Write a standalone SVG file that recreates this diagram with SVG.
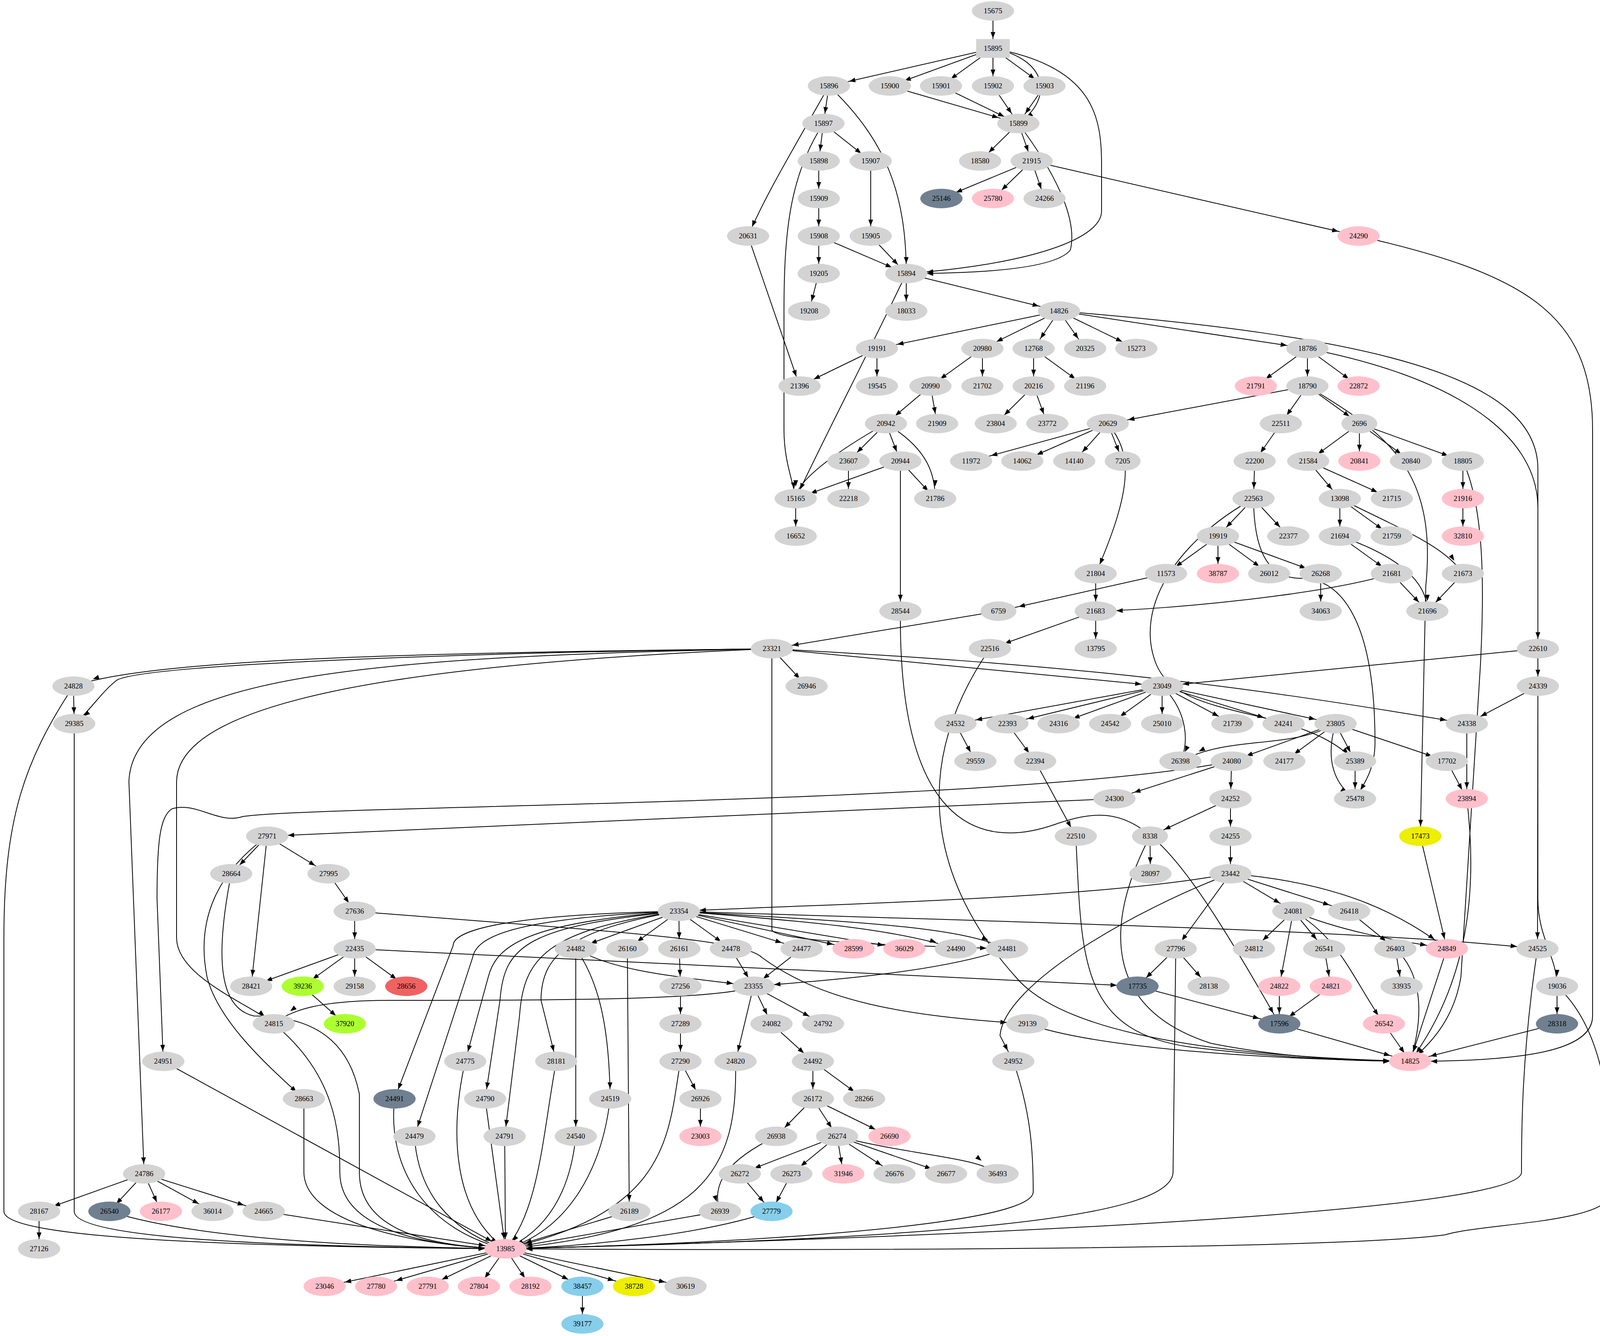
<svg xmlns="http://www.w3.org/2000/svg" width="4135" height="3419" viewBox="0 0 4135 3419">
<style>
.e{stroke:#000;stroke-width:2;fill:none}
ellipse,rect{stroke:none}
.g{fill:#d3d3d3}.p{fill:#ffc0cb}.s{fill:#708090}.b{fill:#87ceeb}.y{fill:#eeee00}.gy{fill:#adff2f}.r{fill:#f06262}
text{font-family:"Liberation Serif","Times New Roman",serif;font-size:19px;text-anchor:middle;fill:#000}
</style>
<defs>
<marker id="m26" markerUnits="userSpaceOnUse" orient="auto" refX="26" refY="0" markerWidth="1" markerHeight="1" overflow="visible"><path d="M0,0 L-16,-6 L-16,6 Z"/></marker>
<marker id="m31" markerUnits="userSpaceOnUse" orient="auto" refX="31" refY="0" markerWidth="1" markerHeight="1" overflow="visible"><path d="M0,0 L-16,-6 L-16,6 Z"/></marker>
<marker id="m40" markerUnits="userSpaceOnUse" orient="auto" refX="40" refY="0" markerWidth="1" markerHeight="1" overflow="visible"><path d="M0,0 L-16,-6 L-16,6 Z"/></marker>
<marker id="m52" markerUnits="userSpaceOnUse" orient="auto" refX="53" refY="0" markerWidth="1" markerHeight="1" overflow="visible"><path d="M0,0 L-16,-6 L-16,6 Z"/></marker>
</defs>
<rect x="0" y="0" width="4135" height="3419" fill="#fff"/>
<g id="edges">
<path class="e" marker-end="url(#m26)" d="M2542,28 L2542,124"/>
<path class="e" marker-end="url(#m52)" d="M2542,124 L2122,220"/>
<path class="e" marker-end="url(#m40)" d="M2542,124 L2278,220"/>
<path class="e" marker-end="url(#m31)" d="M2542,124 L2409,220"/>
<path class="e" marker-end="url(#m26)" d="M2542,124 L2542,220"/>
<path class="e" marker-end="url(#m31)" d="M2542,124 L2674,220"/>
<path class="e" marker-end="url(#m26)" d="M2542,124 C2680,150 2700,250 2607,316"/>
<path class="e" marker-end="url(#m52)" d="M2542,124 C2800,170 2820,300 2820,420 L2820,540 C2820,620 2600,680 2320,700"/>
<path class="e" marker-end="url(#m26)" d="M2122,220 L2108,316"/>
<path class="e" marker-end="url(#m26)" d="M2122,220 C2020,400 1960,500 1915,604"/>
<path class="e" marker-end="url(#m26)" d="M2122,220 C2270,360 2320,500 2320,700"/>
<path class="e" marker-end="url(#m52)" d="M2278,220 L2607,316"/>
<path class="e" marker-end="url(#m40)" d="M2409,220 L2607,316"/>
<path class="e" marker-end="url(#m31)" d="M2542,220 L2607,316"/>
<path class="e" marker-end="url(#m31)" d="M2674,220 L2607,316"/>
<path class="e" marker-end="url(#m31)" d="M2607,316 L2509,412"/>
<path class="e" marker-end="url(#m26)" d="M2607,316 L2641,412"/>
<path class="e" marker-end="url(#m52)" d="M2607,316 C2700,440 2760,560 2740,640 C2700,690 2500,700 2320,700"/>
<path class="e" marker-end="url(#m26)" d="M2108,316 L2096,412"/>
<path class="e" marker-end="url(#m31)" d="M2108,316 L2229,412"/>
<path class="e" marker-end="url(#m26)" d="M2108,316 C2020,450 2007,600 2007,800 L2007,1100 C2007,1180 2030,1230 2037,1276"/>
<path class="e" marker-end="url(#m26)" d="M2096,412 L2096,508"/>
<path class="e" marker-end="url(#m26)" d="M2096,508 L2096,604"/>
<path class="e" marker-end="url(#m26)" d="M2229,412 L2229,604"/>
<path class="e" marker-end="url(#m26)" d="M2096,604 L2096,700"/>
<path class="e" marker-end="url(#m40)" d="M2096,604 L2320,700"/>
<path class="e" marker-end="url(#m31)" d="M2229,604 L2320,700"/>
<path class="e" marker-end="url(#m26)" d="M2096,700 L2071,796"/>
<path class="e" marker-end="url(#m26)" d="M1915,604 L2047,988"/>
<path class="e" marker-end="url(#m40)" d="M2641,412 L2410,508"/>
<path class="e" marker-end="url(#m31)" d="M2641,412 L2542,508"/>
<path class="e" marker-end="url(#m26)" d="M2641,412 L2674,508"/>
<path class="e" marker-end="url(#m52)" d="M2641,412 L3478,604"/>
<path class="e" marker-end="url(#m52)" d="M3478,604 C3900,700 4077,800 4077,1100 L4077,2600 C4077,2690 3900,2716 3610,2716"/>
<path class="e" marker-end="url(#m26)" d="M2320,700 L2320,796"/>
<path class="e" marker-end="url(#m52)" d="M2320,700 L2711,796"/>
<path class="e" marker-end="url(#m26)" d="M2320,700 C2200,950 2120,1100 2037,1276"/>
<path class="e" marker-end="url(#m52)" d="M2711,796 L2245,892"/>
<path class="e" marker-end="url(#m40)" d="M2711,796 L2515,892"/>
<path class="e" marker-end="url(#m31)" d="M2711,796 L2646,892"/>
<path class="e" marker-end="url(#m31)" d="M2711,796 L2778,892"/>
<path class="e" marker-end="url(#m40)" d="M2711,796 L2909,892"/>
<path class="e" marker-end="url(#m52)" d="M2711,796 L3347,892"/>
<path class="e" marker-end="url(#m26)" d="M2711,796 C3500,860 3937,960 3937,1200 L3937,2300 C3937,2400 3986,2450 3986,2524"/>
<path class="e" marker-end="url(#m40)" d="M2245,892 L2047,988"/>
<path class="e" marker-end="url(#m26)" d="M2245,892 L2245,988"/>
<path class="e" marker-end="url(#m31)" d="M2515,892 L2382,988"/>
<path class="e" marker-end="url(#m26)" d="M2515,892 L2515,988"/>
<path class="e" marker-end="url(#m26)" d="M2646,892 L2646,988"/>
<path class="e" marker-end="url(#m31)" d="M2646,892 L2778,988"/>
<path class="e" marker-end="url(#m31)" d="M3347,892 L3215,988"/>
<path class="e" marker-end="url(#m26)" d="M3347,892 L3347,988"/>
<path class="e" marker-end="url(#m31)" d="M3347,892 L3478,988"/>
<path class="e" marker-end="url(#m26)" d="M3347,892 C3700,960 3937,1100 3937,1300 L3937,1660"/>
<path class="e" marker-end="url(#m31)" d="M2382,988 L2268,1084"/>
<path class="e" marker-end="url(#m26)" d="M2382,988 L2399,1084"/>
<path class="e" marker-end="url(#m31)" d="M2646,988 L2549,1084"/>
<path class="e" marker-end="url(#m26)" d="M2646,988 L2681,1084"/>
<path class="e" marker-end="url(#m52)" d="M3347,988 L2836,1084"/>
<path class="e" marker-end="url(#m26)" d="M3347,988 L3279,1084"/>
<path class="e" marker-end="url(#m31)" d="M3347,988 L3480,1084"/>
<path class="e" marker-end="url(#m26)" d="M3347,988 C3550,1110 3680,1200 3650,1500 L3636,2140"/>
<path class="e" marker-end="url(#m31)" d="M2268,1084 C2150,1150 2037,1230 2037,1276"/>
<path class="e" marker-end="url(#m31)" d="M2268,1084 L2172,1180"/>
<path class="e" marker-end="url(#m26)" d="M2268,1084 L2305,1180"/>
<path class="e" marker-end="url(#m31)" d="M2268,1084 C2380,1150 2394,1220 2394,1276"/>
<path class="e" marker-end="url(#m52)" d="M2836,1084 L2486,1180"/>
<path class="e" marker-end="url(#m40)" d="M2836,1084 L2617,1180"/>
<path class="e" marker-end="url(#m31)" d="M2836,1084 L2750,1180"/>
<path class="e" marker-end="url(#m26)" d="M2836,1084 L2874,1180"/>
<path class="e" marker-end="url(#m26)" d="M2836,1084 C2900,1160 2900,1250 2805,1468"/>
<path class="e" marker-end="url(#m26)" d="M3279,1084 L3212,1180"/>
<path class="e" marker-end="url(#m31)" d="M3480,1084 L3349,1180"/>
<path class="e" marker-end="url(#m26)" d="M3480,1084 L3480,1180"/>
<path class="e" marker-end="url(#m31)" d="M3480,1084 L3612,1180"/>
<path class="e" marker-end="url(#m40)" d="M3480,1084 L3745,1180"/>
<path class="e" marker-end="url(#m26)" d="M2172,1180 L2172,1276"/>
<path class="e" marker-end="url(#m40)" d="M2305,1180 L2037,1276"/>
<path class="e" marker-end="url(#m26)" d="M2305,1180 L2394,1276"/>
<path class="e" marker-end="url(#m26)" d="M2305,1180 L2305,1564"/>
<path class="e" marker-end="url(#m26)" d="M3212,1180 L3209,1276"/>
<path class="e" marker-end="url(#m31)" d="M3349,1180 L3430,1276"/>
<path class="e" marker-end="url(#m40)" d="M3349,1180 L3563,1276"/>
<path class="e" marker-end="url(#m26)" d="M3745,1180 L3745,1276"/>
<path class="e" marker-end="url(#m26)" d="M3745,1180 C3800,1300 3800,1500 3790,1700 L3740,2500 C3720,2620 3650,2680 3610,2716"/>
<path class="e" marker-end="url(#m26)" d="M2037,1276 L2037,1372"/>
<path class="e" marker-end="url(#m31)" d="M3209,1276 L3118,1372"/>
<path class="e" marker-end="url(#m31)" d="M3209,1276 L3298,1372"/>
<path class="e" marker-end="url(#m26)" d="M3209,1276 C3020,1380 2900,1550 2960,1700 C3020,1850 3330,1800 3469,1948"/>
<path class="e" marker-end="url(#m26)" d="M3209,1276 C3210,1400 3240,1480 3330,1480 C3440,1480 3520,1600 3520,1900 C3520,1970 3490,2010 3469,2044"/>
<path class="e" marker-end="url(#m26)" d="M3430,1276 L3430,1372"/>
<path class="e" marker-end="url(#m31)" d="M3430,1276 L3563,1372"/>
<path class="e" marker-end="url(#m40)" d="M3430,1276 C3600,1360 3700,1400 3745,1468"/>
<path class="e" marker-end="url(#m26)" d="M3745,1276 L3745,1372"/>
<path class="e" marker-end="url(#m31)" d="M3118,1372 L2985,1468"/>
<path class="e" marker-end="url(#m26)" d="M3118,1372 L3118,1468"/>
<path class="e" marker-end="url(#m31)" d="M3118,1372 L3249,1468"/>
<path class="e" marker-end="url(#m40)" d="M3118,1372 L3381,1468"/>
<path class="e" marker-end="url(#m31)" d="M3430,1372 L3563,1468"/>
<path class="e" marker-end="url(#m26)" d="M3430,1372 C3600,1430 3654,1500 3654,1564"/>
<path class="e" marker-end="url(#m52)" d="M3563,1468 C3400,1520 3000,1560 2805,1564"/>
<path class="e" marker-end="url(#m31)" d="M3563,1468 L3654,1564"/>
<path class="e" marker-end="url(#m31)" d="M3745,1468 L3654,1564"/>
<path class="e" marker-end="url(#m26)" d="M2805,1468 L2805,1564"/>
<path class="e" marker-end="url(#m52)" d="M2985,1468 L2556,1564"/>
<path class="e" marker-end="url(#m26)" d="M3381,1468 L3381,1564"/>
<path class="e" marker-end="url(#m52)" d="M2556,1564 L1976,1660"/>
<path class="e" marker-end="url(#m40)" d="M2805,1564 L2534,1660"/>
<path class="e" marker-end="url(#m26)" d="M2805,1564 L2805,1660"/>
<path class="e" marker-end="url(#m31)" d="M2305,1564 C2300,2100 2500,2180 2700,2110 C2900,2040 2980,2100 3275,2620"/>
<path class="e" marker-end="url(#m52)" d="M2534,1660 C2300,2000 2420,2300 2600,2500 C2700,2620 3000,2700 3610,2716"/>
<path class="e" marker-end="url(#m52)" d="M1976,1660 C1200,1670 400,1680 188,1756"/>
<path class="e" marker-end="url(#m31)" d="M1976,1660 C1200,1670 380,1700 300,1740 C260,1770 230,1820 190,1852"/>
<path class="e" marker-end="url(#m26)" d="M1976,1660 C1000,1680 340,1720 330,2000 L369,3004"/>
<path class="e" marker-end="url(#m31)" d="M1976,1660 C1000,1700 455,1800 452,2000 L452,2400 C452,2500 640,2570 701,2620"/>
<path class="e" marker-end="url(#m52)" d="M1976,1660 L1976,2380 C1990,2410 2300,2420 2578,2428"/>
<path class="e" marker-end="url(#m26)" d="M1976,1660 L2065,1756"/>
<path class="e" marker-end="url(#m52)" d="M1976,1660 L2975,1756"/>
<path class="e" marker-end="url(#m52)" d="M1976,1660 C2700,1700 3100,1740 3755,1852"/>
<path class="e" marker-end="url(#m52)" d="M3937,1660 L2975,1756"/>
<path class="e" marker-end="url(#m26)" d="M3937,1660 L3937,1756"/>
<path class="e" marker-end="url(#m40)" d="M3937,1756 L3755,1852"/>
<path class="e" marker-end="url(#m26)" d="M3937,1756 L3936,2428"/>
<path class="e" marker-end="url(#m52)" d="M2975,1756 L2446,1852"/>
<path class="e" marker-end="url(#m52)" d="M2975,1756 L2579,1852"/>
<path class="e" marker-end="url(#m40)" d="M2975,1756 L2710,1852"/>
<path class="e" marker-end="url(#m31)" d="M2975,1756 L2842,1852"/>
<path class="e" marker-end="url(#m26)" d="M2975,1756 L2975,1852"/>
<path class="e" marker-end="url(#m40)" d="M2975,1756 L3155,1852"/>
<path class="e" marker-end="url(#m52)" d="M2975,1756 L3286,1852"/>
<path class="e" marker-end="url(#m52)" d="M2975,1756 L3419,1852"/>
<path class="e" marker-end="url(#m26)" d="M2975,1756 C3040,1820 3045,1900 3022,1948"/>
<path class="e" marker-end="url(#m26)" d="M2446,1852 L2497,1948"/>
<path class="e" marker-end="url(#m26)" d="M2579,1852 L2650,1948"/>
<path class="e" marker-end="url(#m26)" d="M2650,1948 L2754,2140"/>
<path class="e" marker-end="url(#m52)" d="M3419,1852 C3300,1920 3150,1880 3022,1948"/>
<path class="e" marker-end="url(#m40)" d="M3419,1852 L3153,1948"/>
<path class="e" marker-end="url(#m31)" d="M3419,1852 L3288,1948"/>
<path class="e" marker-end="url(#m26)" d="M3419,1852 L3469,1948"/>
<path class="e" marker-end="url(#m26)" d="M3419,1852 C3390,1950 3420,2010 3469,2044"/>
<path class="e" marker-end="url(#m40)" d="M3419,1852 L3704,1948"/>
<path class="e" marker-end="url(#m26)" d="M3755,1852 L3755,2044"/>
<path class="e" marker-end="url(#m26)" d="M3469,1948 L3469,2044"/>
<path class="e" marker-end="url(#m52)" d="M3153,1948 L2853,2044"/>
<path class="e" marker-end="url(#m26)" d="M3153,1948 L3150,2044"/>
<path class="e" marker-end="url(#m26)" d="M3153,1948 C2600,2060 800,2060 620,2090 C560,2110 500,2050 440,2070 C410,2090 402,2150 402,2300 L418,2716"/>
<path class="e" marker-end="url(#m52)" d="M2853,2044 L684,2140"/>
<path class="e" marker-end="url(#m26)" d="M3704,1948 L3755,2044"/>
<path class="e" marker-end="url(#m40)" d="M3150,2044 L2944,2140"/>
<path class="e" marker-end="url(#m26)" d="M3150,2044 L3150,2140"/>
<path class="e" marker-end="url(#m52)" d="M2754,2140 C2770,2450 2760,2640 3050,2680 C3300,2710 3500,2716 3610,2716"/>
<path class="e" marker-end="url(#m26)" d="M2944,2140 L2945,2236"/>
<path class="e" marker-end="url(#m52)" d="M2944,2140 C2830,2360 2820,2580 3100,2670 C3300,2710 3500,2716 3610,2716"/>
<path class="e" marker-end="url(#m26)" d="M3150,2140 L3150,2236"/>
<path class="e" marker-end="url(#m26)" d="M3636,2140 L3704,2428"/>
<path class="e" marker-end="url(#m26)" d="M3755,2044 C3780,2250 3770,2500 3610,2716"/>
<path class="e" marker-end="url(#m31)" d="M684,2140 L592,2236"/>
<path class="e" marker-end="url(#m26)" d="M684,2140 L643,2524"/>
<path class="e" marker-end="url(#m40)" d="M684,2140 L841,2236"/>
<path class="e" marker-end="url(#m26)" d="M684,2140 C560,2230 500,2350 530,2500 C560,2620 700,2740 778,2812"/>
<path class="e" marker-end="url(#m31)" d="M592,2236 C550,2450 560,2580 650,2600 C840,2600 900,2700 920,2800 L920,3000 C920,3150 1100,3190 1294,3196"/>
<path class="e" marker-end="url(#m26)" d="M841,2236 L908,2332"/>
<path class="e" marker-end="url(#m26)" d="M908,2332 L908,2428"/>
<path class="e" marker-end="url(#m52)" d="M908,2332 C1500,2380 1900,2400 1950,2450 C2100,2560 2300,2600 2630,2620"/>
<path class="e" marker-end="url(#m52)" d="M3150,2236 C2800,2300 2200,2310 1738,2332"/>
<path class="e" marker-end="url(#m40)" d="M3150,2236 L3311,2332"/>
<path class="e" marker-end="url(#m52)" d="M3150,2236 L3454,2332"/>
<path class="e" marker-end="url(#m40)" d="M3150,2236 C3450,2260 3600,2350 3704,2428"/>
<path class="e" marker-end="url(#m26)" d="M3150,2236 L3010,2428"/>
<path class="e" marker-end="url(#m31)" d="M3150,2236 C2900,2330 2570,2520 2560,2650 L2594,2716"/>
<path class="e" marker-end="url(#m40)" d="M1738,2332 L1474,2428"/>
<path class="e" marker-end="url(#m31)" d="M1738,2332 L1606,2428"/>
<path class="e" marker-end="url(#m26)" d="M1738,2332 L1739,2428"/>
<path class="e" marker-end="url(#m31)" d="M1738,2332 L1871,2428"/>
<path class="e" marker-end="url(#m52)" d="M1738,2332 L2052,2428"/>
<path class="e" marker-end="url(#m52)" d="M1738,2332 L2185,2428"/>
<path class="e" marker-end="url(#m52)" d="M1738,2332 L2315,2428"/>
<path class="e" marker-end="url(#m52)" d="M1738,2332 C2100,2360 2300,2380 2447,2428"/>
<path class="e" marker-end="url(#m52)" d="M1738,2332 C2200,2360 2450,2370 2578,2428"/>
<path class="e" marker-end="url(#m52)" d="M1738,2332 C2600,2360 3500,2380 3936,2428"/>
<path class="e" marker-end="url(#m26)" d="M1738,2332 C1300,2340 1160,2380 1160,2420 L1010,2812"/>
<path class="e" marker-end="url(#m26)" d="M1738,2332 C1300,2350 1220,2400 1210,2450 L1061,2908"/>
<path class="e" marker-end="url(#m26)" d="M1738,2332 C1350,2360 1270,2420 1250,2500 L1191,2716"/>
<path class="e" marker-end="url(#m26)" d="M1738,2332 C1350,2370 1290,2420 1280,2560 L1242,2812"/>
<path class="e" marker-end="url(#m26)" d="M1738,2332 C1400,2380 1340,2450 1330,2600 L1292,2908"/>
<path class="e" marker-end="url(#m26)" d="M1738,2332 C1450,2380 1385,2450 1385,2560 L1424,2716"/>
<path class="e" marker-end="url(#m40)" d="M908,2428 L643,2524"/>
<path class="e" marker-end="url(#m31)" d="M908,2428 L775,2524"/>
<path class="e" marker-end="url(#m26)" d="M908,2428 L908,2524"/>
<path class="e" marker-end="url(#m31)" d="M908,2428 L1040,2524"/>
<path class="e" marker-end="url(#m52)" d="M908,2428 L2912,2524"/>
<path class="e" marker-end="url(#m31)" d="M775,2524 L883,2620"/>
<path class="e" marker-end="url(#m26)" d="M1606,2428 L1611,3100"/>
<path class="e" marker-end="url(#m26)" d="M1739,2428 L1742,2524"/>
<path class="e" marker-end="url(#m26)" d="M1742,2524 L1742,2620"/>
<path class="e" marker-end="url(#m26)" d="M1742,2620 L1742,2716"/>
<path class="e" marker-end="url(#m26)" d="M1742,2716 L1793,2812"/>
<path class="e" marker-end="url(#m31)" d="M1742,2716 C1710,2900 1720,3100 1294,3196"/>
<path class="e" marker-end="url(#m52)" d="M1474,2428 C1580,2490 1750,2500 1929,2524"/>
<path class="e" marker-end="url(#m26)" d="M1474,2428 L1474,2908"/>
<path class="e" marker-end="url(#m26)" d="M1474,2428 C1540,2520 1560,2650 1562,2812"/>
<path class="e" marker-end="url(#m26)" d="M1871,2428 L1929,2524"/>
<path class="e" marker-end="url(#m31)" d="M2052,2428 L1929,2524"/>
<path class="e" marker-end="url(#m52)" d="M2578,2428 C2400,2490 2100,2510 1929,2524"/>
<path class="e" marker-end="url(#m52)" d="M1929,2524 C1850,2560 1400,2560 1000,2560 C800,2560 740,2590 701,2620"/>
<path class="e" marker-end="url(#m26)" d="M1929,2524 L1883,2716"/>
<path class="e" marker-end="url(#m26)" d="M1929,2524 L1975,2620"/>
<path class="e" marker-end="url(#m40)" d="M1929,2524 L2107,2620"/>
<path class="e" marker-end="url(#m31)" d="M1975,2620 L2081,2716"/>
<path class="e" marker-end="url(#m26)" d="M2081,2716 L2081,2812"/>
<path class="e" marker-end="url(#m31)" d="M2081,2716 L2212,2812"/>
<path class="e" marker-end="url(#m31)" d="M2081,2812 L1987,2908"/>
<path class="e" marker-end="url(#m26)" d="M2081,2812 L2143,2908"/>
<path class="e" marker-end="url(#m40)" d="M2081,2812 L2277,2908"/>
<path class="e" marker-end="url(#m40)" d="M2143,2908 L1894,3004"/>
<path class="e" marker-end="url(#m31)" d="M2143,2908 L2026,3004"/>
<path class="e" marker-end="url(#m26)" d="M2143,2908 L2159,3004"/>
<path class="e" marker-end="url(#m40)" d="M2143,2908 L2290,3004"/>
<path class="e" marker-end="url(#m40)" d="M2143,2908 L2422,3004"/>
<path class="e" marker-end="url(#m52)" d="M2143,2908 C2350,2960 2500,2960 2554,3004"/>
<path class="e" marker-end="url(#m31)" d="M1894,3004 L1975,3100"/>
<path class="e" marker-end="url(#m26)" d="M2026,3004 L1975,3100"/>
<path class="e" marker-end="url(#m26)" d="M1793,2812 L1793,2908"/>
<path class="e" marker-end="url(#m26)" d="M1987,2908 C1860,2970 1820,3030 1843,3100"/>
<path class="e" marker-end="url(#m31)" d="M3311,2332 L3210,2428"/>
<path class="e" marker-end="url(#m31)" d="M3311,2332 L3390,2428"/>
<path class="e" marker-end="url(#m26)" d="M3311,2332 L3275,2524"/>
<path class="e" marker-end="url(#m26)" d="M3311,2332 C3430,2400 3460,2500 3543,2620"/>
<path class="e" marker-end="url(#m52)" d="M3311,2332 C3450,2390 3600,2410 3704,2428"/>
<path class="e" marker-end="url(#m31)" d="M3454,2332 L3572,2428"/>
<path class="e" marker-end="url(#m26)" d="M3572,2428 L3588,2524"/>
<path class="e" marker-end="url(#m26)" d="M3572,2428 C3650,2500 3640,2620 3610,2716"/>
<path class="e" marker-end="url(#m26)" d="M3390,2428 L3407,2524"/>
<path class="e" marker-end="url(#m31)" d="M3407,2524 L3275,2620"/>
<path class="e" marker-end="url(#m26)" d="M3275,2524 L3275,2620"/>
<path class="e" marker-end="url(#m31)" d="M3010,2428 L2912,2524"/>
<path class="e" marker-end="url(#m31)" d="M3010,2428 L3094,2524"/>
<path class="e" marker-end="url(#m52)" d="M3010,2428 L3003,3000 C3000,3120 2400,3170 1294,3196"/>
<path class="e" marker-end="url(#m52)" d="M2912,2524 L3275,2620"/>
<path class="e" marker-end="url(#m52)" d="M3275,2620 L3610,2716"/>
<path class="e" marker-end="url(#m26)" d="M3543,2620 L3610,2716"/>
<path class="e" marker-end="url(#m26)" d="M3704,2428 L3610,2716"/>
<path class="e" marker-end="url(#m52)" d="M2630,2620 C2800,2680 3200,2710 3610,2716"/>
<path class="e" marker-end="url(#m26)" d="M3986,2524 L3986,2620"/>
<path class="e" marker-end="url(#m52)" d="M3986,2620 L3610,2716"/>
<path class="e" marker-end="url(#m52)" d="M3986,2524 C4125,2650 4125,2900 4125,3050 C4125,3130 3800,3130 3700,3160 C3400,3200 2000,3200 1294,3196"/>
<path class="e" marker-end="url(#m52)" d="M3936,2428 C3895,2700 3895,2900 3895,3000 C3895,3080 3000,3150 1294,3196"/>
<path class="e" marker-end="url(#m52)" d="M2594,2716 C2640,2850 2645,2950 2645,3050 C2645,3130 2000,3180 1294,3196"/>
<path class="e" marker-end="url(#m40)" d="M369,3004 L100,3100"/>
<path class="e" marker-end="url(#m26)" d="M369,3004 L280,3100"/>
<path class="e" marker-end="url(#m26)" d="M369,3004 L412,3100"/>
<path class="e" marker-end="url(#m40)" d="M369,3004 L544,3100"/>
<path class="e" marker-end="url(#m52)" d="M369,3004 L675,3100"/>
<path class="e" marker-end="url(#m26)" d="M100,3100 L100,3196"/>
<path class="e" marker-end="url(#m26)" d="M188,1756 L190,1852"/>
<path class="e" marker-end="url(#m52)" d="M188,1756 C60,1950 10,2100 10,2400 L10,3100 C10,3170 600,3190 1294,3196"/>
<path class="e" marker-end="url(#m52)" d="M190,1852 L190,3100 C190,3170 700,3190 1294,3196"/>
<path class="e" marker-end="url(#m52)" d="M280,3100 C500,3170 900,3190 1294,3196"/>
<path class="e" marker-end="url(#m52)" d="M675,3100 L1294,3196"/>
<path class="e" marker-end="url(#m40)" d="M418,2716 L1294,3196"/>
<path class="e" marker-end="url(#m31)" d="M701,2620 C860,2750 870,2900 870,3000 C870,3150 1100,3190 1294,3196"/>
<path class="e" marker-end="url(#m31)" d="M778,2812 L778,3000 C780,3140 1100,3190 1294,3196"/>
<path class="e" marker-end="url(#m26)" d="M1010,2812 C990,3000 1100,3150 1294,3196"/>
<path class="e" marker-end="url(#m26)" d="M1061,2908 C1070,3050 1150,3150 1294,3196"/>
<path class="e" marker-end="url(#m26)" d="M1191,2716 C1150,2900 1160,3100 1294,3196"/>
<path class="e" marker-end="url(#m26)" d="M1242,2812 L1294,3196"/>
<path class="e" marker-end="url(#m26)" d="M1292,2908 L1294,3196"/>
<path class="e" marker-end="url(#m26)" d="M1424,2716 C1390,2900 1380,3100 1294,3196"/>
<path class="e" marker-end="url(#m31)" d="M1474,2908 C1460,3050 1400,3150 1294,3196"/>
<path class="e" marker-end="url(#m31)" d="M1562,2812 C1540,3000 1450,3150 1294,3196"/>
<path class="e" marker-end="url(#m52)" d="M1611,3100 L1294,3196"/>
<path class="e" marker-end="url(#m31)" d="M1883,2716 C1890,3000 1800,3150 1294,3196"/>
<path class="e" marker-end="url(#m52)" d="M1843,3100 L1294,3196"/>
<path class="e" marker-end="url(#m52)" d="M1975,3100 C1800,3160 1500,3190 1294,3196"/>
<path class="e" marker-end="url(#m52)" d="M1294,3196 L831,3292"/>
<path class="e" marker-end="url(#m52)" d="M1294,3196 L963,3292"/>
<path class="e" marker-end="url(#m40)" d="M1294,3196 L1095,3292"/>
<path class="e" marker-end="url(#m26)" d="M1294,3196 L1226,3292"/>
<path class="e" marker-end="url(#m26)" d="M1294,3196 L1358,3292"/>
<path class="e" marker-end="url(#m40)" d="M1294,3196 L1491,3292"/>
<path class="e" marker-end="url(#m52)" d="M1294,3196 L1623,3292"/>
<path class="e" marker-end="url(#m52)" d="M1294,3196 L1755,3292"/>
<path class="e" marker-end="url(#m26)" d="M1491,3292 L1491,3388"/>
</g>
<g id="n15675"><ellipse class="g" cx="2542" cy="28" rx="54" ry="25"/><text x="2542" y="34">15675</text></g>
<g id="n15895"><rect class="g" x="2499" y="100" width="86" height="48"/><text x="2542" y="130">15895</text></g>
<g id="n15896"><ellipse class="g" cx="2122" cy="220" rx="54" ry="25"/><text x="2122" y="226">15896</text></g>
<g id="n15900"><ellipse class="g" cx="2278" cy="220" rx="54" ry="25"/><text x="2278" y="226">15900</text></g>
<g id="n15901"><ellipse class="g" cx="2409" cy="220" rx="54" ry="25"/><text x="2409" y="226">15901</text></g>
<g id="n15902"><ellipse class="g" cx="2542" cy="220" rx="54" ry="25"/><text x="2542" y="226">15902</text></g>
<g id="n15903"><ellipse class="g" cx="2674" cy="220" rx="54" ry="25"/><text x="2674" y="226">15903</text></g>
<g id="n15897"><ellipse class="g" cx="2108" cy="316" rx="54" ry="25"/><text x="2108" y="322">15897</text></g>
<g id="n15899"><ellipse class="g" cx="2607" cy="316" rx="54" ry="25"/><text x="2607" y="322">15899</text></g>
<g id="n15898"><ellipse class="g" cx="2096" cy="412" rx="54" ry="25"/><text x="2096" y="418">15898</text></g>
<g id="n15907"><ellipse class="g" cx="2229" cy="412" rx="54" ry="25"/><text x="2229" y="418">15907</text></g>
<g id="n18580"><ellipse class="g" cx="2509" cy="412" rx="54" ry="25"/><text x="2509" y="418">18580</text></g>
<g id="n21915"><ellipse class="g" cx="2641" cy="412" rx="54" ry="25"/><text x="2641" y="418">21915</text></g>
<g id="n15909"><ellipse class="g" cx="2096" cy="508" rx="54" ry="25"/><text x="2096" y="514">15909</text></g>
<g id="n25146"><ellipse class="s" cx="2410" cy="508" rx="54" ry="25"/><text x="2410" y="514">25146</text></g>
<g id="n25780"><ellipse class="p" cx="2542" cy="508" rx="54" ry="25"/><text x="2542" y="514">25780</text></g>
<g id="n24266"><ellipse class="g" cx="2674" cy="508" rx="54" ry="25"/><text x="2674" y="514">24266</text></g>
<g id="n20631"><ellipse class="g" cx="1915" cy="604" rx="54" ry="25"/><text x="1915" y="610">20631</text></g>
<g id="n15908"><ellipse class="g" cx="2096" cy="604" rx="54" ry="25"/><text x="2096" y="610">15908</text></g>
<g id="n15905"><ellipse class="g" cx="2229" cy="604" rx="54" ry="25"/><text x="2229" y="610">15905</text></g>
<g id="n24290"><ellipse class="p" cx="3478" cy="604" rx="54" ry="25"/><text x="3478" y="610">24290</text></g>
<g id="n19205"><ellipse class="g" cx="2096" cy="700" rx="54" ry="25"/><text x="2096" y="706">19205</text></g>
<g id="n15894"><ellipse class="g" cx="2320" cy="700" rx="54" ry="25"/><text x="2320" y="706">15894</text></g>
<g id="n19208"><ellipse class="g" cx="2071" cy="796" rx="54" ry="25"/><text x="2071" y="802">19208</text></g>
<g id="n18033"><ellipse class="g" cx="2320" cy="796" rx="54" ry="25"/><text x="2320" y="802">18033</text></g>
<g id="n14826"><ellipse class="g" cx="2711" cy="796" rx="54" ry="25"/><text x="2711" y="802">14826</text></g>
<g id="n19191"><ellipse class="g" cx="2245" cy="892" rx="54" ry="25"/><text x="2245" y="898">19191</text></g>
<g id="n20980"><ellipse class="g" cx="2515" cy="892" rx="54" ry="25"/><text x="2515" y="898">20980</text></g>
<g id="n12768"><ellipse class="g" cx="2646" cy="892" rx="54" ry="25"/><text x="2646" y="898">12768</text></g>
<g id="n20325"><ellipse class="g" cx="2778" cy="892" rx="54" ry="25"/><text x="2778" y="898">20325</text></g>
<g id="n15273"><ellipse class="g" cx="2909" cy="892" rx="54" ry="25"/><text x="2909" y="898">15273</text></g>
<g id="n18786"><ellipse class="g" cx="3347" cy="892" rx="54" ry="25"/><text x="3347" y="898">18786</text></g>
<g id="n21396"><ellipse class="g" cx="2047" cy="988" rx="54" ry="25"/><text x="2047" y="994">21396</text></g>
<g id="n19545"><ellipse class="g" cx="2245" cy="988" rx="54" ry="25"/><text x="2245" y="994">19545</text></g>
<g id="n20990"><ellipse class="g" cx="2382" cy="988" rx="54" ry="25"/><text x="2382" y="994">20990</text></g>
<g id="n21702"><ellipse class="g" cx="2515" cy="988" rx="54" ry="25"/><text x="2515" y="994">21702</text></g>
<g id="n20216"><ellipse class="g" cx="2646" cy="988" rx="54" ry="25"/><text x="2646" y="994">20216</text></g>
<g id="n21196"><ellipse class="g" cx="2778" cy="988" rx="54" ry="25"/><text x="2778" y="994">21196</text></g>
<g id="n21791"><ellipse class="p" cx="3215" cy="988" rx="54" ry="25"/><text x="3215" y="994">21791</text></g>
<g id="n18790"><ellipse class="g" cx="3347" cy="988" rx="54" ry="25"/><text x="3347" y="994">18790</text></g>
<g id="n22872"><ellipse class="p" cx="3478" cy="988" rx="54" ry="25"/><text x="3478" y="994">22872</text></g>
<g id="n20942"><ellipse class="g" cx="2268" cy="1084" rx="54" ry="25"/><text x="2268" y="1090">20942</text></g>
<g id="n21909"><ellipse class="g" cx="2399" cy="1084" rx="54" ry="25"/><text x="2399" y="1090">21909</text></g>
<g id="n23804"><ellipse class="g" cx="2549" cy="1084" rx="54" ry="25"/><text x="2549" y="1090">23804</text></g>
<g id="n23772"><ellipse class="g" cx="2681" cy="1084" rx="54" ry="25"/><text x="2681" y="1090">23772</text></g>
<g id="n20629"><ellipse class="g" cx="2836" cy="1084" rx="54" ry="25"/><text x="2836" y="1090">20629</text></g>
<g id="n22511"><ellipse class="g" cx="3279" cy="1084" rx="54" ry="25"/><text x="3279" y="1090">22511</text></g>
<g id="n2696"><ellipse class="g" cx="3480" cy="1084" rx="46" ry="25"/><text x="3480" y="1090">2696</text></g>
<g id="n23607"><ellipse class="g" cx="2172" cy="1180" rx="54" ry="25"/><text x="2172" y="1186">23607</text></g>
<g id="n20944"><ellipse class="g" cx="2305" cy="1180" rx="54" ry="25"/><text x="2305" y="1186">20944</text></g>
<g id="n11972"><ellipse class="g" cx="2486" cy="1180" rx="54" ry="25"/><text x="2486" y="1186">11972</text></g>
<g id="n14062"><ellipse class="g" cx="2617" cy="1180" rx="54" ry="25"/><text x="2617" y="1186">14062</text></g>
<g id="n14140"><ellipse class="g" cx="2750" cy="1180" rx="54" ry="25"/><text x="2750" y="1186">14140</text></g>
<g id="n7205"><ellipse class="g" cx="2874" cy="1180" rx="46" ry="25"/><text x="2874" y="1186">7205</text></g>
<g id="n22200"><ellipse class="g" cx="3212" cy="1180" rx="54" ry="25"/><text x="3212" y="1186">22200</text></g>
<g id="n21584"><ellipse class="g" cx="3349" cy="1180" rx="54" ry="25"/><text x="3349" y="1186">21584</text></g>
<g id="n20841"><ellipse class="p" cx="3480" cy="1180" rx="54" ry="25"/><text x="3480" y="1186">20841</text></g>
<g id="n20840"><ellipse class="g" cx="3612" cy="1180" rx="54" ry="25"/><text x="3612" y="1186">20840</text></g>
<g id="n18805"><ellipse class="g" cx="3745" cy="1180" rx="54" ry="25"/><text x="3745" y="1186">18805</text></g>
<g id="n15165"><ellipse class="g" cx="2037" cy="1276" rx="54" ry="25"/><text x="2037" y="1282">15165</text></g>
<g id="n22218"><ellipse class="g" cx="2172" cy="1276" rx="54" ry="25"/><text x="2172" y="1282">22218</text></g>
<g id="n21786"><ellipse class="g" cx="2394" cy="1276" rx="54" ry="25"/><text x="2394" y="1282">21786</text></g>
<g id="n22563"><ellipse class="g" cx="3209" cy="1276" rx="54" ry="25"/><text x="3209" y="1282">22563</text></g>
<g id="n13098"><ellipse class="g" cx="3430" cy="1276" rx="54" ry="25"/><text x="3430" y="1282">13098</text></g>
<g id="n21715"><ellipse class="g" cx="3563" cy="1276" rx="54" ry="25"/><text x="3563" y="1282">21715</text></g>
<g id="n21916"><ellipse class="p" cx="3745" cy="1276" rx="54" ry="25"/><text x="3745" y="1282">21916</text></g>
<g id="n16652"><ellipse class="g" cx="2037" cy="1372" rx="54" ry="25"/><text x="2037" y="1378">16652</text></g>
<g id="n19919"><ellipse class="g" cx="3118" cy="1372" rx="54" ry="25"/><text x="3118" y="1378">19919</text></g>
<g id="n22377"><ellipse class="g" cx="3298" cy="1372" rx="54" ry="25"/><text x="3298" y="1378">22377</text></g>
<g id="n21694"><ellipse class="g" cx="3430" cy="1372" rx="54" ry="25"/><text x="3430" y="1378">21694</text></g>
<g id="n21759"><ellipse class="g" cx="3563" cy="1372" rx="54" ry="25"/><text x="3563" y="1378">21759</text></g>
<g id="n32810"><ellipse class="p" cx="3745" cy="1372" rx="54" ry="25"/><text x="3745" y="1378">32810</text></g>
<g id="n21804"><ellipse class="g" cx="2805" cy="1468" rx="54" ry="25"/><text x="2805" y="1474">21804</text></g>
<g id="n11573"><ellipse class="g" cx="2985" cy="1468" rx="54" ry="25"/><text x="2985" y="1474">11573</text></g>
<g id="n38787"><ellipse class="p" cx="3118" cy="1468" rx="54" ry="25"/><text x="3118" y="1474">38787</text></g>
<g id="n26012"><ellipse class="g" cx="3249" cy="1468" rx="54" ry="25"/><text x="3249" y="1474">26012</text></g>
<g id="n26268"><ellipse class="g" cx="3381" cy="1468" rx="54" ry="25"/><text x="3381" y="1474">26268</text></g>
<g id="n21681"><ellipse class="g" cx="3563" cy="1468" rx="54" ry="25"/><text x="3563" y="1474">21681</text></g>
<g id="n21673"><ellipse class="g" cx="3745" cy="1468" rx="54" ry="25"/><text x="3745" y="1474">21673</text></g>
<g id="n28544"><ellipse class="g" cx="2305" cy="1564" rx="54" ry="25"/><text x="2305" y="1570">28544</text></g>
<g id="n6759"><ellipse class="g" cx="2556" cy="1564" rx="46" ry="25"/><text x="2556" y="1570">6759</text></g>
<g id="n21683"><ellipse class="g" cx="2805" cy="1564" rx="54" ry="25"/><text x="2805" y="1570">21683</text></g>
<g id="n34063"><ellipse class="g" cx="3381" cy="1564" rx="54" ry="25"/><text x="3381" y="1570">34063</text></g>
<g id="n21696"><ellipse class="g" cx="3654" cy="1564" rx="54" ry="25"/><text x="3654" y="1570">21696</text></g>
<g id="n23321"><ellipse class="g" cx="1976" cy="1660" rx="54" ry="25"/><text x="1976" y="1666">23321</text></g>
<g id="n22516"><ellipse class="g" cx="2534" cy="1660" rx="54" ry="25"/><text x="2534" y="1666">22516</text></g>
<g id="n13795"><ellipse class="g" cx="2805" cy="1660" rx="54" ry="25"/><text x="2805" y="1666">13795</text></g>
<g id="n22610"><ellipse class="g" cx="3937" cy="1660" rx="54" ry="25"/><text x="3937" y="1666">22610</text></g>
<g id="n24828"><ellipse class="g" cx="188" cy="1756" rx="54" ry="25"/><text x="188" y="1762">24828</text></g>
<g id="n26946"><ellipse class="g" cx="2065" cy="1756" rx="54" ry="25"/><text x="2065" y="1762">26946</text></g>
<g id="n23049"><ellipse class="g" cx="2975" cy="1756" rx="54" ry="25"/><text x="2975" y="1762">23049</text></g>
<g id="n24339"><ellipse class="g" cx="3937" cy="1756" rx="54" ry="25"/><text x="3937" y="1762">24339</text></g>
<g id="n29385"><ellipse class="g" cx="190" cy="1852" rx="54" ry="25"/><text x="190" y="1858">29385</text></g>
<g id="n24532"><ellipse class="g" cx="2446" cy="1852" rx="54" ry="25"/><text x="2446" y="1858">24532</text></g>
<g id="n22393"><ellipse class="g" cx="2579" cy="1852" rx="54" ry="25"/><text x="2579" y="1858">22393</text></g>
<g id="n24316"><ellipse class="g" cx="2710" cy="1852" rx="54" ry="25"/><text x="2710" y="1858">24316</text></g>
<g id="n24542"><ellipse class="g" cx="2842" cy="1852" rx="54" ry="25"/><text x="2842" y="1858">24542</text></g>
<g id="n25010"><ellipse class="g" cx="2975" cy="1852" rx="54" ry="25"/><text x="2975" y="1858">25010</text></g>
<g id="n21739"><ellipse class="g" cx="3155" cy="1852" rx="54" ry="25"/><text x="3155" y="1858">21739</text></g>
<g id="n24241"><ellipse class="g" cx="3286" cy="1852" rx="54" ry="25"/><text x="3286" y="1858">24241</text></g>
<g id="n23805"><ellipse class="g" cx="3419" cy="1852" rx="54" ry="25"/><text x="3419" y="1858">23805</text></g>
<g id="n24338"><ellipse class="g" cx="3755" cy="1852" rx="54" ry="25"/><text x="3755" y="1858">24338</text></g>
<g id="n29559"><ellipse class="g" cx="2497" cy="1948" rx="54" ry="25"/><text x="2497" y="1954">29559</text></g>
<g id="n22394"><ellipse class="g" cx="2650" cy="1948" rx="54" ry="25"/><text x="2650" y="1954">22394</text></g>
<g id="n26398"><ellipse class="g" cx="3022" cy="1948" rx="54" ry="25"/><text x="3022" y="1954">26398</text></g>
<g id="n24080"><ellipse class="g" cx="3153" cy="1948" rx="54" ry="25"/><text x="3153" y="1954">24080</text></g>
<g id="n24177"><ellipse class="g" cx="3288" cy="1948" rx="54" ry="25"/><text x="3288" y="1954">24177</text></g>
<g id="n25389"><ellipse class="g" cx="3469" cy="1948" rx="54" ry="25"/><text x="3469" y="1954">25389</text></g>
<g id="n17702"><ellipse class="g" cx="3704" cy="1948" rx="54" ry="25"/><text x="3704" y="1954">17702</text></g>
<g id="n24300"><ellipse class="g" cx="2853" cy="2044" rx="54" ry="25"/><text x="2853" y="2050">24300</text></g>
<g id="n24252"><ellipse class="g" cx="3150" cy="2044" rx="54" ry="25"/><text x="3150" y="2050">24252</text></g>
<g id="n25478"><ellipse class="g" cx="3469" cy="2044" rx="54" ry="25"/><text x="3469" y="2050">25478</text></g>
<g id="n23894"><ellipse class="p" cx="3755" cy="2044" rx="54" ry="25"/><text x="3755" y="2050">23894</text></g>
<g id="n27971"><ellipse class="g" cx="684" cy="2140" rx="54" ry="25"/><text x="684" y="2146">27971</text></g>
<g id="n22510"><ellipse class="g" cx="2754" cy="2140" rx="54" ry="25"/><text x="2754" y="2146">22510</text></g>
<g id="n8338"><ellipse class="g" cx="2944" cy="2140" rx="46" ry="25"/><text x="2944" y="2146">8338</text></g>
<g id="n24255"><ellipse class="g" cx="3150" cy="2140" rx="54" ry="25"/><text x="3150" y="2146">24255</text></g>
<g id="n17473"><ellipse class="y" cx="3636" cy="2140" rx="54" ry="25"/><text x="3636" y="2146">17473</text></g>
<g id="n28664"><ellipse class="g" cx="592" cy="2236" rx="54" ry="25"/><text x="592" y="2242">28664</text></g>
<g id="n27995"><ellipse class="g" cx="841" cy="2236" rx="54" ry="25"/><text x="841" y="2242">27995</text></g>
<g id="n28097"><ellipse class="g" cx="2945" cy="2236" rx="54" ry="25"/><text x="2945" y="2242">28097</text></g>
<g id="n23442"><ellipse class="g" cx="3150" cy="2236" rx="54" ry="25"/><text x="3150" y="2242">23442</text></g>
<g id="n27636"><ellipse class="g" cx="908" cy="2332" rx="54" ry="25"/><text x="908" y="2338">27636</text></g>
<g id="n23354"><ellipse class="g" cx="1738" cy="2332" rx="54" ry="25"/><text x="1738" y="2338">23354</text></g>
<g id="n24081"><ellipse class="g" cx="3311" cy="2332" rx="54" ry="25"/><text x="3311" y="2338">24081</text></g>
<g id="n26418"><ellipse class="g" cx="3454" cy="2332" rx="54" ry="25"/><text x="3454" y="2338">26418</text></g>
<g id="n22435"><ellipse class="g" cx="908" cy="2428" rx="54" ry="25"/><text x="908" y="2434">22435</text></g>
<g id="n24482"><ellipse class="g" cx="1474" cy="2428" rx="54" ry="25"/><text x="1474" y="2434">24482</text></g>
<g id="n26160"><ellipse class="g" cx="1606" cy="2428" rx="54" ry="25"/><text x="1606" y="2434">26160</text></g>
<g id="n26161"><ellipse class="g" cx="1739" cy="2428" rx="54" ry="25"/><text x="1739" y="2434">26161</text></g>
<g id="n24478"><ellipse class="g" cx="1871" cy="2428" rx="54" ry="25"/><text x="1871" y="2434">24478</text></g>
<g id="n24477"><ellipse class="g" cx="2052" cy="2428" rx="54" ry="25"/><text x="2052" y="2434">24477</text></g>
<g id="n28599"><ellipse class="p" cx="2185" cy="2428" rx="54" ry="25"/><text x="2185" y="2434">28599</text></g>
<g id="n36029"><ellipse class="p" cx="2315" cy="2428" rx="54" ry="25"/><text x="2315" y="2434">36029</text></g>
<g id="n24490"><ellipse class="g" cx="2447" cy="2428" rx="54" ry="25"/><text x="2447" y="2434">24490</text></g>
<g id="n24481"><ellipse class="g" cx="2578" cy="2428" rx="54" ry="25"/><text x="2578" y="2434">24481</text></g>
<g id="n27796"><ellipse class="g" cx="3010" cy="2428" rx="54" ry="25"/><text x="3010" y="2434">27796</text></g>
<g id="n24812"><ellipse class="g" cx="3210" cy="2428" rx="54" ry="25"/><text x="3210" y="2434">24812</text></g>
<g id="n26541"><ellipse class="g" cx="3390" cy="2428" rx="54" ry="25"/><text x="3390" y="2434">26541</text></g>
<g id="n26403"><ellipse class="g" cx="3572" cy="2428" rx="54" ry="25"/><text x="3572" y="2434">26403</text></g>
<g id="n24849"><ellipse class="p" cx="3704" cy="2428" rx="54" ry="25"/><text x="3704" y="2434">24849</text></g>
<g id="n24525"><ellipse class="g" cx="3936" cy="2428" rx="54" ry="25"/><text x="3936" y="2434">24525</text></g>
<g id="n28421"><ellipse class="g" cx="643" cy="2524" rx="54" ry="25"/><text x="643" y="2530">28421</text></g>
<g id="n39236"><ellipse class="gy" cx="775" cy="2524" rx="54" ry="25"/><text x="775" y="2530">39236</text></g>
<g id="n29158"><ellipse class="g" cx="908" cy="2524" rx="54" ry="25"/><text x="908" y="2530">29158</text></g>
<g id="n28656"><ellipse class="r" cx="1040" cy="2524" rx="54" ry="25"/><text x="1040" y="2530">28656</text></g>
<g id="n27256"><ellipse class="g" cx="1742" cy="2524" rx="54" ry="25"/><text x="1742" y="2530">27256</text></g>
<g id="n23355"><ellipse class="g" cx="1929" cy="2524" rx="54" ry="25"/><text x="1929" y="2530">23355</text></g>
<g id="n17735"><ellipse class="s" cx="2912" cy="2524" rx="54" ry="25"/><text x="2912" y="2530">17735</text></g>
<g id="n28138"><ellipse class="g" cx="3094" cy="2524" rx="54" ry="25"/><text x="3094" y="2530">28138</text></g>
<g id="n24822"><ellipse class="p" cx="3275" cy="2524" rx="54" ry="25"/><text x="3275" y="2530">24822</text></g>
<g id="n24821"><ellipse class="p" cx="3407" cy="2524" rx="54" ry="25"/><text x="3407" y="2530">24821</text></g>
<g id="n33935"><ellipse class="g" cx="3588" cy="2524" rx="54" ry="25"/><text x="3588" y="2530">33935</text></g>
<g id="n19036"><ellipse class="g" cx="3986" cy="2524" rx="54" ry="25"/><text x="3986" y="2530">19036</text></g>
<g id="n24815"><ellipse class="g" cx="701" cy="2620" rx="54" ry="25"/><text x="701" y="2626">24815</text></g>
<g id="n37920"><ellipse class="gy" cx="883" cy="2620" rx="54" ry="25"/><text x="883" y="2626">37920</text></g>
<g id="n27289"><ellipse class="g" cx="1742" cy="2620" rx="54" ry="25"/><text x="1742" y="2626">27289</text></g>
<g id="n24082"><ellipse class="g" cx="1975" cy="2620" rx="54" ry="25"/><text x="1975" y="2626">24082</text></g>
<g id="n24792"><ellipse class="g" cx="2107" cy="2620" rx="54" ry="25"/><text x="2107" y="2626">24792</text></g>
<g id="n29139"><ellipse class="g" cx="2630" cy="2620" rx="54" ry="25"/><text x="2630" y="2626">29139</text></g>
<g id="n17596"><ellipse class="s" cx="3275" cy="2620" rx="54" ry="25"/><text x="3275" y="2626">17596</text></g>
<g id="n26542"><ellipse class="p" cx="3543" cy="2620" rx="54" ry="25"/><text x="3543" y="2626">26542</text></g>
<g id="n28318"><ellipse class="s" cx="3986" cy="2620" rx="54" ry="25"/><text x="3986" y="2626">28318</text></g>
<g id="n24951"><ellipse class="g" cx="418" cy="2716" rx="54" ry="25"/><text x="418" y="2722">24951</text></g>
<g id="n24775"><ellipse class="g" cx="1191" cy="2716" rx="54" ry="25"/><text x="1191" y="2722">24775</text></g>
<g id="n28181"><ellipse class="g" cx="1424" cy="2716" rx="54" ry="25"/><text x="1424" y="2722">28181</text></g>
<g id="n27290"><ellipse class="g" cx="1742" cy="2716" rx="54" ry="25"/><text x="1742" y="2722">27290</text></g>
<g id="n24820"><ellipse class="g" cx="1883" cy="2716" rx="54" ry="25"/><text x="1883" y="2722">24820</text></g>
<g id="n24492"><ellipse class="g" cx="2081" cy="2716" rx="54" ry="25"/><text x="2081" y="2722">24492</text></g>
<g id="n24952"><ellipse class="g" cx="2594" cy="2716" rx="54" ry="25"/><text x="2594" y="2722">24952</text></g>
<g id="n14825"><ellipse class="p" cx="3610" cy="2716" rx="54" ry="25"/><text x="3610" y="2722">14825</text></g>
<g id="n28663"><ellipse class="g" cx="778" cy="2812" rx="54" ry="25"/><text x="778" y="2818">28663</text></g>
<g id="n24491"><ellipse class="s" cx="1010" cy="2812" rx="54" ry="25"/><text x="1010" y="2818">24491</text></g>
<g id="n24790"><ellipse class="g" cx="1242" cy="2812" rx="54" ry="25"/><text x="1242" y="2818">24790</text></g>
<g id="n24519"><ellipse class="g" cx="1562" cy="2812" rx="54" ry="25"/><text x="1562" y="2818">24519</text></g>
<g id="n26926"><ellipse class="g" cx="1793" cy="2812" rx="54" ry="25"/><text x="1793" y="2818">26926</text></g>
<g id="n26172"><ellipse class="g" cx="2081" cy="2812" rx="54" ry="25"/><text x="2081" y="2818">26172</text></g>
<g id="n28266"><ellipse class="g" cx="2212" cy="2812" rx="54" ry="25"/><text x="2212" y="2818">28266</text></g>
<g id="n24479"><ellipse class="g" cx="1061" cy="2908" rx="54" ry="25"/><text x="1061" y="2914">24479</text></g>
<g id="n24791"><ellipse class="g" cx="1292" cy="2908" rx="54" ry="25"/><text x="1292" y="2914">24791</text></g>
<g id="n24540"><ellipse class="g" cx="1474" cy="2908" rx="54" ry="25"/><text x="1474" y="2914">24540</text></g>
<g id="n23003"><ellipse class="p" cx="1793" cy="2908" rx="54" ry="25"/><text x="1793" y="2914">23003</text></g>
<g id="n26938"><ellipse class="g" cx="1987" cy="2908" rx="54" ry="25"/><text x="1987" y="2914">26938</text></g>
<g id="n26274"><ellipse class="g" cx="2143" cy="2908" rx="54" ry="25"/><text x="2143" y="2914">26274</text></g>
<g id="n26690"><ellipse class="p" cx="2277" cy="2908" rx="54" ry="25"/><text x="2277" y="2914">26690</text></g>
<g id="n24786"><ellipse class="g" cx="369" cy="3004" rx="54" ry="25"/><text x="369" y="3010">24786</text></g>
<g id="n26272"><ellipse class="g" cx="1894" cy="3004" rx="54" ry="25"/><text x="1894" y="3010">26272</text></g>
<g id="n26273"><ellipse class="g" cx="2026" cy="3004" rx="54" ry="25"/><text x="2026" y="3010">26273</text></g>
<g id="n31946"><ellipse class="p" cx="2159" cy="3004" rx="54" ry="25"/><text x="2159" y="3010">31946</text></g>
<g id="n26676"><ellipse class="g" cx="2290" cy="3004" rx="54" ry="25"/><text x="2290" y="3010">26676</text></g>
<g id="n26677"><ellipse class="g" cx="2422" cy="3004" rx="54" ry="25"/><text x="2422" y="3010">26677</text></g>
<g id="n36493"><ellipse class="g" cx="2554" cy="3004" rx="54" ry="25"/><text x="2554" y="3010">36493</text></g>
<g id="n28167"><ellipse class="g" cx="100" cy="3100" rx="54" ry="25"/><text x="100" y="3106">28167</text></g>
<g id="n26540"><ellipse class="s" cx="280" cy="3100" rx="54" ry="25"/><text x="280" y="3106">26540</text></g>
<g id="n26177"><ellipse class="p" cx="412" cy="3100" rx="54" ry="25"/><text x="412" y="3106">26177</text></g>
<g id="n36014"><ellipse class="g" cx="544" cy="3100" rx="54" ry="25"/><text x="544" y="3106">36014</text></g>
<g id="n24665"><ellipse class="g" cx="675" cy="3100" rx="54" ry="25"/><text x="675" y="3106">24665</text></g>
<g id="n26189"><ellipse class="g" cx="1611" cy="3100" rx="54" ry="25"/><text x="1611" y="3106">26189</text></g>
<g id="n26939"><ellipse class="g" cx="1843" cy="3100" rx="54" ry="25"/><text x="1843" y="3106">26939</text></g>
<g id="n27779"><ellipse class="b" cx="1975" cy="3100" rx="54" ry="25"/><text x="1975" y="3106">27779</text></g>
<g id="n27126"><ellipse class="g" cx="100" cy="3196" rx="54" ry="25"/><text x="100" y="3202">27126</text></g>
<g id="n13985"><ellipse class="p" cx="1294" cy="3196" rx="54" ry="25"/><text x="1294" y="3202">13985</text></g>
<g id="n23046"><ellipse class="p" cx="831" cy="3292" rx="54" ry="25"/><text x="831" y="3298">23046</text></g>
<g id="n27780"><ellipse class="p" cx="963" cy="3292" rx="54" ry="25"/><text x="963" y="3298">27780</text></g>
<g id="n27791"><ellipse class="p" cx="1095" cy="3292" rx="54" ry="25"/><text x="1095" y="3298">27791</text></g>
<g id="n27804"><ellipse class="p" cx="1226" cy="3292" rx="54" ry="25"/><text x="1226" y="3298">27804</text></g>
<g id="n28192"><ellipse class="p" cx="1358" cy="3292" rx="54" ry="25"/><text x="1358" y="3298">28192</text></g>
<g id="n38457"><ellipse class="b" cx="1491" cy="3292" rx="54" ry="25"/><text x="1491" y="3298">38457</text></g>
<g id="n38728"><ellipse class="y" cx="1623" cy="3292" rx="54" ry="25"/><text x="1623" y="3298">38728</text></g>
<g id="n30619"><ellipse class="g" cx="1755" cy="3292" rx="54" ry="25"/><text x="1755" y="3298">30619</text></g>
<g id="n39177"><ellipse class="b" cx="1491" cy="3388" rx="54" ry="25"/><text x="1491" y="3394">39177</text></g>
</svg>
